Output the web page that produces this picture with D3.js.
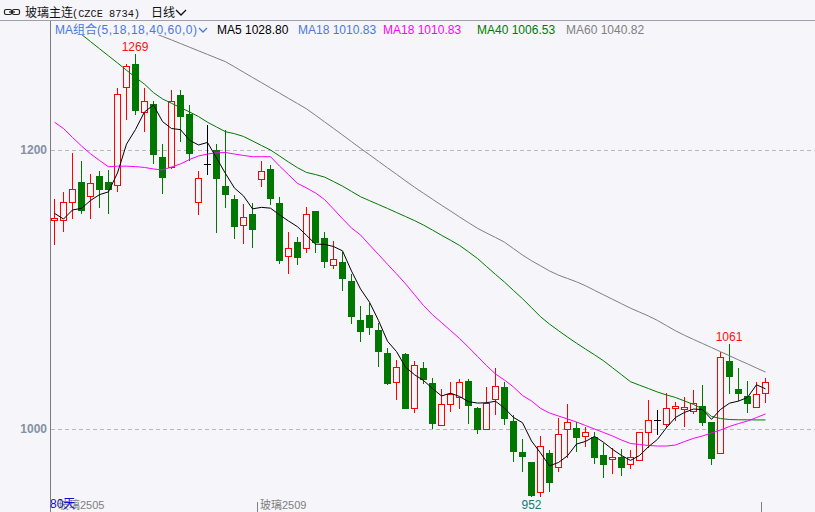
<!DOCTYPE html>
<html><head><meta charset="utf-8">
<script src="https://cdn.jsdelivr.net/npm/d3@7"></script>
<style>html,body{margin:0;padding:0;background:#f5f5fa;overflow:hidden}</style>
</head><body>
<svg id="c" width="815" height="512"></svg>
<script>
// ---- data ----
const opens  = [1149.6,1149.6,1162.5,1176.8,1166.9,1181.6,1176.9,1174.6,1244.9,1261.4,1227.0,1233.0,1194.8,1187.6,1239.4,1225.8,1162.5,1190.0,1200.0,1174.2,1164.9,1146.0,1154.1,1179.0,1186.4,1162.0,1123.8,1133.8,1129.5,1156.3,1136.9,1117.3,1119.5,1105.8,1078.1,1081.7,1071.0,1054.3,1033.5,1053.8,1014.8,1043.7,1032.7,1002.7,1017.7,1023.2,1034.4,1015.1,999.8,1021.3,1030.3,1005.7,983.5,976.3,955.1,982.6,973.0,999.8,1000.5,994.8,994.5,981.4,978.3,980.1,974.7,977.8,998.1,1006.5,1003.4,1014.8,1014.6,1013.1,1016.5,1005.2,983.0,1048.7,1028.7,1023.7,1016.0,1025.5];
const highs  = [1164.6,1170.0,1197.6,1192.1,1182.6,1185.0,1185.7,1244.2,1262.0,1268.8,1244.2,1235.3,1204.3,1243.0,1243.0,1232.5,1185.1,1217.9,1204.3,1214.3,1167.7,1161.1,1161.7,1192.1,1189.2,1166.1,1141.2,1137.8,1159.4,1156.3,1141.4,1134.8,1127.1,1111.1,1088.2,1090.1,1075.7,1057.8,1049.5,1054.7,1048.7,1048.2,1036.8,1028.7,1033.4,1035.8,1035.6,1016.0,1030.3,1043.7,1033.9,1010.0,992.8,976.3,995.2,984.9,1007.7,1017.9,1005.2,1001.6,998.1,989.7,986.2,985.4,984.9,998.1,1020.8,1013.6,1025.5,1019.6,1023.1,1028.0,1031.5,1005.2,1055.4,1060.9,1043.5,1034.4,1033.4,1036.3];
const lows   = [1132.6,1142.0,1151.5,1154.6,1151.5,1159.4,1154.6,1170.8,1222.2,1225.8,1213.8,1190.5,1169.4,1187.0,1206.7,1192.8,1153.9,1182.6,1141.0,1158.9,1137.1,1133.5,1130.7,1174.4,1161.5,1119.2,1111.6,1118.3,1126.6,1127.0,1116.3,1115.2,1099.6,1076.2,1063.2,1068.1,1045.4,1032.3,1021.3,1015.3,1012.4,1032.8,1000.9,1002.7,1013.1,1015.3,1004.5,997.3,999.8,1010.5,1003.4,977.3,970.1,952.0,952.2,955.8,969.9,980.1,984.4,987.8,975.8,965.8,968.2,967.0,972.2,977.8,987.3,996.4,1001.6,1006.5,1002.4,1011.2,1002.9,974.9,982.6,1025.5,1020.8,1012.4,1015.6,1019.6];
const closes = [1151.0,1162.5,1171.8,1157.2,1176.4,1172.3,1172.3,1239.9,1260.2,1228.7,1235.3,1196.9,1180.9,1235.1,1224.6,1197.6,1179.7,1190.0,1179.7,1168.5,1145.5,1151.7,1143.6,1185.0,1165.8,1121.4,1129.5,1123.5,1153.9,1134.3,1120.7,1121.6,1108.0,1081.2,1070.5,1073.3,1056.1,1033.2,1044.2,1015.3,1045.6,1035.6,1004.5,1017.7,1025.1,1033.4,1017.2,999.8,1018.4,1030.8,1008.1,984.4,980.9,952.7,987.8,962.2,996.2,1005.2,994.5,997.6,980.1,974.9,979.7,972.9,979.7,997.6,1006.5,1006.5,1014.8,1016.2,1015.5,1018.4,1005.2,979.4,1051.4,1038.2,1025.6,1018.4,1025.1,1033.9];

const ma5  = [1154.6,1150.5,1157.0,1158.2,1163.8,1168.0,1170.0,1183.6,1204.2,1214.7,1227.3,1232.2,1220.4,1215.4,1214.6,1207.0,1203.6,1205.4,1194.3,1183.1,1172.7,1167.1,1157.8,1158.9,1158.3,1153.5,1149.1,1145.0,1138.8,1132.5,1132.4,1130.8,1127.7,1113.2,1100.4,1090.9,1077.8,1062.9,1055.5,1044.4,1038.9,1034.8,1029.0,1023.7,1025.7,1023.3,1019.6,1018.6,1018.8,1019.9,1014.9,1008.3,1004.5,991.4,982.8,973.6,976.0,980.8,989.2,991.1,994.7,990.5,985.4,981.0,977.5,981.0,987.3,992.6,1001.0,1008.3,1011.9,1014.3,1014.0,1006.9,1014.0,1018.5,1020.0,1022.6,1031.7,1028.8];
const ma18 = [1219.9,1215.4,1209.0,1202.9,1197.3,1192.5,1188.0,1188.4,1188.4,1188.1,1187.5,1186.4,1185.7,1187.8,1190.0,1193.2,1195.7,1197.1,1198.0,1198.2,1197.1,1196.1,1195.2,1195.2,1195.2,1188.5,1182.3,1176.1,1172.8,1169.2,1164.5,1157.7,1150.7,1144.1,1139.1,1132.0,1125.1,1118.1,1111.2,1104.1,1096.3,1088.5,1081.9,1076.3,1070.6,1064.9,1058.6,1052.0,1045.5,1039.4,1035.1,1030.1,1024.0,1020.1,1014.8,1011.5,1009.3,1007.2,1005.0,1002.5,1000.0,997.5,995.0,992.1,989.6,988.9,988.2,987.8,987.8,988.5,991.0,993.3,995.0,997.1,999.3,1001.8,1003.9,1005.7,1008.2,1010.83];
const ma40 = [null,null,1288.0,1282.9,1277.7,1272.6,1267.5,1262.4,1257.2,1252.0,1247.2,1241.1,1236.6,1233.5,1230.4,1227.3,1224.0,1219.9,1216.5,1213.1,1211.7,1209.7,1206.5,1203.2,1200.0,1195.7,1191.4,1187.3,1183.9,1182.4,1180.6,1177.4,1174.1,1170.3,1166.5,1163.7,1160.9,1158.1,1155.2,1152.3,1149.4,1146.2,1142.6,1138.9,1135.3,1131.6,1127.0,1122.2,1116.5,1110.8,1105.3,1099.3,1093.4,1087.0,1080.5,1075.2,1070.5,1065.9,1061.5,1057.3,1053.2,1048.9,1043.9,1038.9,1033.9,1031.4,1029.0,1026.5,1024.4,1022.6,1020.1,1017.6,1014.5,1009.0,1007.5,1006.8,1006.6,1006.6,1006.5,1006.53];
const ma60 = [null,null,null,null,null,null,null,null,null,null,null,1283.9,1281.4,1278.9,1276.3,1273.7,1271.1,1268.5,1265.9,1263.3,1259.6,1255.8,1252.0,1248.3,1244.5,1240.8,1237.0,1233.3,1229.5,1224.9,1220.2,1215.5,1210.8,1206.0,1201.2,1196.6,1191.9,1187.2,1182.6,1177.9,1173.3,1169.0,1164.7,1160.4,1156.3,1152.0,1147.9,1143.9,1140.5,1137.3,1133.9,1129.3,1124.7,1120.6,1117.0,1113.3,1110.3,1107.9,1105.5,1102.7,1099.4,1096.2,1093.0,1089.8,1086.6,1083.8,1081.0,1077.8,1074.1,1070.4,1067.2,1064.2,1061.3,1058.4,1055.4,1052.5,1049.5,1046.7,1043.7,1040.82];

const yTicks = [1000, 1200];
const markHigh = [9, 75];
const markLow = [53];
const contractLabels = [{i: 0, text: "玻璃2505"}, {i: 23, text: "玻璃2509"}];
const contractTicks = [23, 79];
const legend = [
  {text: "MA5 1028.80",  x: 217, color: "#000000"},
  {text: "MA18 1010.83", x: 298, color: "#4a78e0"},
  {text: "MA18 1010.83", x: 383, color: "#ff00ff"},
  {text: "MA40 1006.53", x: 477, color: "#007a00"},
  {text: "MA60 1040.82", x: 566, color: "#808080"}
];

// ---- drawing ----
const W = 815, H = 512;
const LAT = "'Liberation Sans', Arial, sans-serif";
const CJK = "'Liberation Sans', 'Noto Sans CJK SC', sans-serif";
const svg = d3.select('#c');
svg.append('rect').attr('width', W).attr('height', H).attr('fill', '#f5f5fa');

const x = d3.scaleLinear().domain([0, closes.length - 1]).range([54, 765]);
const y = d3.scaleLinear().domain([1000, 1200]).range([429, 150]);

// separator and axis line
svg.append('line').attr('x1', 0).attr('x2', W).attr('y1', 20.5).attr('y2', 20.5).attr('stroke', '#a0a0a8');
svg.append('line').attr('x1', 50.5).attr('x2', 50.5).attr('y1', 21).attr('y2', H).attr('stroke', '#7a7a80');

// gridlines
svg.append('g').selectAll('line').data(yTicks).join('line')
  .attr('x1', 51).attr('x2', W)
  .attr('y1', d => Math.round(y(d)) + 0.5).attr('y2', d => Math.round(y(d)) + 0.5)
  .attr('stroke', '#b8b8bc').attr('stroke-dasharray', '4,3');

// y axis labels
const ax = svg.append('g').attr('transform', 'translate(50,0)')
  .call(d3.axisLeft(y).tickValues(yTicks).tickSize(0).tickPadding(3).tickFormat(d3.format('d')));
ax.select('.domain').remove();
ax.selectAll('text').attr('font-family', LAT).attr('font-size', 12).attr('font-weight', 'bold').attr('fill', '#8590a4');

// candles
const cg = svg.append('g');
closes.forEach((c, i) => {
  const o = opens[i], h = highs[i], l = lows[i];
  const cx = Math.round(x(i));
  const yh = Math.round(y(h)), yl = Math.round(y(l));
  const yt = Math.round(y(Math.max(o, c))), yb = Math.round(y(Math.min(o, c)));
  if (c > o) {
    const col = '#ff0000';
    cg.append('line').attr('x1', cx + 0.5).attr('x2', cx + 0.5).attr('y1', yh).attr('y2', yt).attr('stroke', col);
    cg.append('line').attr('x1', cx + 0.5).attr('x2', cx + 0.5).attr('y1', yb).attr('y2', yl + 1).attr('stroke', col);
    cg.append('rect').attr('x', cx - 2.5).attr('y', yt + 0.5).attr('width', 6).attr('height', Math.max(1, yb - yt))
      .attr('fill', '#f5f5fa').attr('stroke', col);
  } else if (c < o) {
    const col = '#007800';
    cg.append('line').attr('x1', cx + 0.5).attr('x2', cx + 0.5).attr('y1', yh).attr('y2', yl + 1).attr('stroke', col);
    cg.append('rect').attr('x', cx - 3).attr('y', yt).attr('width', 7).attr('height', Math.max(1, yb - yt + 1)).attr('fill', col);
  } else {
    const col = '#000000';
    cg.append('line').attr('x1', cx + 0.5).attr('x2', cx + 0.5).attr('y1', yh).attr('y2', yl + 1).attr('stroke', col);
    cg.append('line').attr('x1', cx - 3).attr('x2', cx + 4).attr('y1', yt + 0.5).attr('y2', yt + 0.5).attr('stroke', col);
  }
});

// moving averages
svg.append('clipPath').attr('id', 'plotclip').append('rect').attr('x', 51).attr('y', 35).attr('width', W - 51).attr('height', H - 35);
const line = d3.line().defined(d => d != null).x((d, i) => x(i) + 0.5).y(d => y(d));
const maSeries = [
  {data: ma60, color: '#808080'},
  {data: ma40, color: '#007a00'},
  {data: ma18, color: '#ff00ff'},
  {data: ma5,  color: '#000000'}
];
const mg = svg.append('g').attr('clip-path', 'url(#plotclip)');
maSeries.forEach(s => {
  mg.append('path').attr('d', line(s.data)).attr('fill', 'none').attr('stroke', s.color).attr('stroke-width', 1);
});

// high / low marks
const fmt = d3.format('.0f');
markHigh.forEach(i => {
  svg.append('text').attr('x', x(i)).attr('y', y(highs[i]) - 3).attr('text-anchor', 'middle')
    .attr('font-family', LAT).attr('font-size', 12).attr('fill', '#ff1010').text(fmt(highs[i]));
});
markLow.forEach(i => {
  svg.append('text').attr('x', x(i) + 0.5).attr('y', y(lows[i]) + 13).attr('text-anchor', 'middle')
    .attr('font-family', LAT).attr('font-size', 12).attr('fill', '#207a74').text(fmt(lows[i]));
});

// title bar
const ic = svg.append('g').attr('fill', 'none').attr('stroke', '#222').attr('stroke-width', 1.2);
ic.append('rect').attr('x', 4.5).attr('y', 9.5).attr('width', 7).attr('height', 5).attr('rx', 1.5);
ic.append('rect').attr('x', 12.5).attr('y', 9.5).attr('width', 7).attr('height', 5).attr('rx', 1.5);
ic.append('line').attr('x1', 9).attr('x2', 15).attr('y1', 12).attr('y2', 12);
svg.append('text').attr('x', 25).attr('y', 17).attr('font-family', "'Noto Sans CJK SC', sans-serif").attr('font-size', 12)
  .attr('fill', '#111').text('玻璃主连');
svg.append('text').attr('x', 72).attr('y', 16.5).attr('font-family', "'Liberation Mono', monospace").attr('font-size', 11)
  .attr('fill', '#111').attr('textLength', 68).attr('lengthAdjust', 'spacingAndGlyphs').text('(CZCE 8734)');
svg.append('text').attr('x', 151).attr('y', 17).attr('font-family', "'Noto Sans CJK SC', sans-serif").attr('font-size', 12)
  .attr('fill', '#111').text('日线');
svg.append('path').attr('d', 'M176,10 L181,15 L186,10').attr('fill', 'none').attr('stroke', '#111').attr('stroke-width', 1.3);

// MA legend row
svg.append('text').attr('x', 55).attr('y', 34).attr('font-family', CJK).attr('font-size', 12).attr('fill', '#4a78e0').text('MA组合');
svg.append('text').attr('x', 97).attr('y', 34).attr('font-family', LAT).attr('font-size', 12).attr('fill', '#4a78e0')
  .attr('textLength', 100).attr('lengthAdjust', 'spacing').text('(5,18,18,40,60,0)');
svg.append('path').attr('d', 'M199,28 L203,32 L207,28').attr('fill', 'none').attr('stroke', '#4a78e0').attr('stroke-width', 1.3);
svg.append('g').selectAll('text').data(legend).join('text')
  .attr('x', d => d.x).attr('y', 34).attr('font-family', LAT).attr('font-size', 12)
  .attr('fill', d => d.color).text(d => d.text);

// bottom contract labels
svg.append('g').selectAll('line').data(contractTicks).join('line')
  .attr('x1', d => Math.round(x(d)) - 3.5).attr('x2', d => Math.round(x(d)) - 3.5)
  .attr('y1', 502).attr('y2', H).attr('stroke', '#808080');
svg.append('g').selectAll('text').data(contractLabels).join('text')
  .attr('x', d => d.i === 0 ? 58 : Math.round(x(d.i)) - 1).attr('y', 509)
  .attr('font-family', CJK).attr('font-size', 11).attr('fill', '#808080').text(d => d.text);
svg.append('text').attr('x', 50).attr('y', 508).attr('font-family', CJK).attr('font-size', 12)
  .attr('fill', '#1010c8').text(closes.length + '天');
</script>
</body></html>
